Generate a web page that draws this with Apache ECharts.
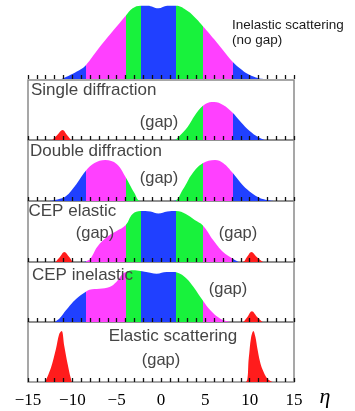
<!DOCTYPE html>
<html><head><meta charset="utf-8">
<script src="https://cdn.jsdelivr.net/npm/echarts@6/dist/echarts.min.js"></script>
<style>html,body{margin:0;padding:0;background:#fff}#c{width:355px;height:411px}</style>
</head><body><div id="c"></div>
<script>
// ---- data ----
const etaTickLabels = [-15, -10, -5, 0, 5, 10, 15];
const bandEdges = [-8.5, -4.0, -2.3, 1.7, 4.7, 8.1];
const bandNames = ['blue', 'magenta', 'green', 'blue', 'green', 'magenta', 'blue'];
const panelTitles = ['Inelastic scattering', 'Single diffraction', 'Double diffraction', 'CEP elastic', 'CEP inelastic', 'Elastic scattering'];

const inelastic = [[-11.2,0],[-10,5],[-9,10],[-8.5,13.5],[-7,31],[-6,42],[-5,52.5],[-4,63],[-3.2,70.7],[-2.3,73.3],[-1.5,73.3],[-0.3,70.7],[0.7,73.3],[1.7,73.3],[3,68],[4,60],[4.7,53],[6,39.7],[7,28.7],[8.1,17],[9,10],[9.7,5.5],[10.7,1.6],[11.6,0]];
const singleDiff = [[1.6,0],[2,3.3],[3,13],[4,27],[5,36],[6,38],[7,35],[8,28],[9,18],[10,9],[11,2.7],[11.7,0]];
const singleDiffRed = [[-12.25,0],[-11.7,5],[-11.1,10],[-10.6,5],[-10.15,0]];
const doubleDiff = [[-12.6,0],[-11.5,2],[-10.7,5],[-9.7,15],[-8.5,30],[-7.5,38],[-6.3,41],[-5,37],[-4,24],[-3,8],[-2.3,0],[1.4,0],[2.5,12],[3.5,27],[4.7,37.7],[6.1,41],[7,38],[8.1,28],[9,18],[9.7,11.7],[10.7,5],[11.6,1.7],[12.7,0]];
const cepElastic = [[-8.7,0],[-8,3],[-7.2,15],[-6.1,25],[-5,31],[-4,36.7],[-3.2,48],[-2.3,51],[-1.2,50.5],[-0.3,48.5],[0.7,50.5],[1.7,51],[2.8,48],[3.8,42],[4.7,36.7],[5.9,21.7],[7,10],[8.1,3.3],[8.8,0]];
const cepElasticRed = [[-11.9,0],[-11.4,5],[-10.9,10],[-10.35,5],[-9.8,0],[9.2,0],[9.7,5],[10.2,10],[10.8,5],[11.5,0]];
const cepInelastic = [[-12,0],[-11.4,4],[-10.72,11.7],[-9.58,23],[-8.52,30],[-8.07,32.3],[-6.93,33.3],[-5.8,35],[-5.04,40],[-4.47,46.7],[-3.98,50],[-3.15,51.7],[-2.3,51],[-1.67,50],[-0.5,48.3],[0.64,50],[1.4,50],[2.15,48.3],[2.9,43.3],[3.67,35],[4.7,21.7],[5.57,11.7],[6.7,3.3],[7.84,0]];
const cepInelasticRed = [[9.3,0],[9.75,5],[10.25,10.7],[10.85,5],[11.45,0]];
const elasticRed = [[-13.07,0],[-12.42,14],[-11.85,33],[-11.48,48],[-11.2,51],[-10.91,36],[-10.53,18],[-10.15,3],[-9.97,0],[9.55,0],[9.9,24],[10.15,44],[10.42,51],[10.65,45],[10.88,33],[11.15,21],[11.44,12.7],[12.0,3.3],[12.6,0]];

// ---- styling / layout ----
const COLORS = { blue: '#2040ff', magenta: '#ff40ff', green: '#18f23c', red: '#ff1c1c' };
const panels = [
  { top: 3, height: 76, border: false, band: inelastic, red: null },
  { top: 80, height: 60, border: true, band: singleDiff, red: singleDiffRed },
  { top: 140, height: 61, border: true, band: doubleDiff, red: null },
  { top: 201, height: 61, border: true, band: cepElastic, red: cepElasticRed },
  { top: 262, height: 60, border: true, band: cepInelastic, red: cepInelasticRed },
  { top: 322, height: 60, border: true, band: null, red: elasticRed }
];
const GL = 28, GW = 266;
const tickStyle = { color: '#111', width: 1.3 };

const grid = [], xAxis = [], yAxis = [], series = [], bandSeriesIdx = [];
panels.forEach((p, i) => {
  grid.push({ left: GL, width: GW, top: p.top, height: p.height, show: p.border,
    borderColor: '#8a8a8a', borderWidth: 1.5, backgroundColor: 'transparent' });
  xAxis.push({
    type: 'value', gridIndex: i, min: etaTickLabels[0], max: etaTickLabels[etaTickLabels.length - 1],
    interval: 5, z: 10,
    axisLine: { show: false },
    axisTick: { show: true, inside: true, length: 4, lineStyle: tickStyle },
    minorTick: { show: true, splitNumber: 5, length: 4, lineStyle: tickStyle },
    splitLine: { show: false }, minorSplitLine: { show: false },
    axisLabel: {
      show: i === panels.length - 1, margin: 10, color: '#000',
      fontFamily: '"Liberation Serif", "DejaVu Serif", serif', fontSize: 17,
      formatter: v => etaTickLabels.includes(v) ? (v < 0 ? '\u2212' + Math.abs(v) : String(v)) : ''
    }
  });
  yAxis.push({ type: 'value', gridIndex: i, min: 0, max: p.height, show: false });
  if (p.band) {
    bandSeriesIdx.push(series.length);
    series.push({ type: 'line', xAxisIndex: i, yAxisIndex: i, data: p.band, smooth: 0.4,
      symbol: 'none', lineStyle: { width: 0 }, areaStyle: { opacity: 1 }, z: 2, silent: true });
  }
  if (p.red) {
    series.push({ type: 'line', xAxisIndex: i, yAxisIndex: i, data: p.red, smooth: 0.35,
      symbol: 'none', color: COLORS.red, lineStyle: { width: 0 },
      areaStyle: { color: COLORS.red, opacity: 1 }, z: 2, silent: true });
  }
});

const edges = [-16].concat(bandEdges, [16]);
const pieces = bandNames.map((n, k) => ({ gte: edges[k], lt: edges[k + 1], color: COLORS[n] }));

const sans = '"Liberation Sans", Arial, sans-serif';
function txt(t, x, y, size, color, align) {
  return { type: 'text', x: x, y: y, z: 100,
    style: { text: t, fill: color, font: size + 'px ' + sans, align: align || 'left', verticalAlign: 'middle' } };
}
const labColor = '#454545';
const graphic = [
  txt(panelTitles[0], 232, 25, 13.5, '#1a1a1a'),
  txt('(no gap)', 232, 40, 13.5, '#1a1a1a'),
  txt(panelTitles[1], 31, 90, 17, labColor),
  txt('(gap)', 159, 122, 16.5, labColor, 'center'),
  txt(panelTitles[2], 30, 151, 17, labColor),
  txt('(gap)', 159, 178, 16.5, labColor, 'center'),
  txt(panelTitles[3], 28.5, 211, 17, labColor),
  txt('(gap)', 95, 233, 16.5, labColor, 'center'),
  txt('(gap)', 238, 233, 16.5, labColor, 'center'),
  txt(panelTitles[4], 32, 275, 17, labColor),
  txt('(gap)', 228, 289, 16.5, labColor, 'center'),
  txt(panelTitles[5], 173, 336, 17, labColor, 'center'),
  txt('(gap)', 161, 360, 16.5, labColor, 'center'),
  { type: 'text', x: 325, y: 397, z: 100,
    style: { text: '\u03b7', fill: '#000', font: 'italic 22px "Liberation Serif", serif', align: 'center', verticalAlign: 'middle' } }
];

const chart = echarts.init(document.getElementById('c'), null, { renderer: 'canvas' });
chart.setOption({
  animation: false,
  backgroundColor: '#fff',
  grid, xAxis, yAxis, series, graphic,
  visualMap: { type: 'piecewise', show: false, dimension: 0, seriesIndex: bandSeriesIdx, pieces: pieces }
});
</script></body></html>
